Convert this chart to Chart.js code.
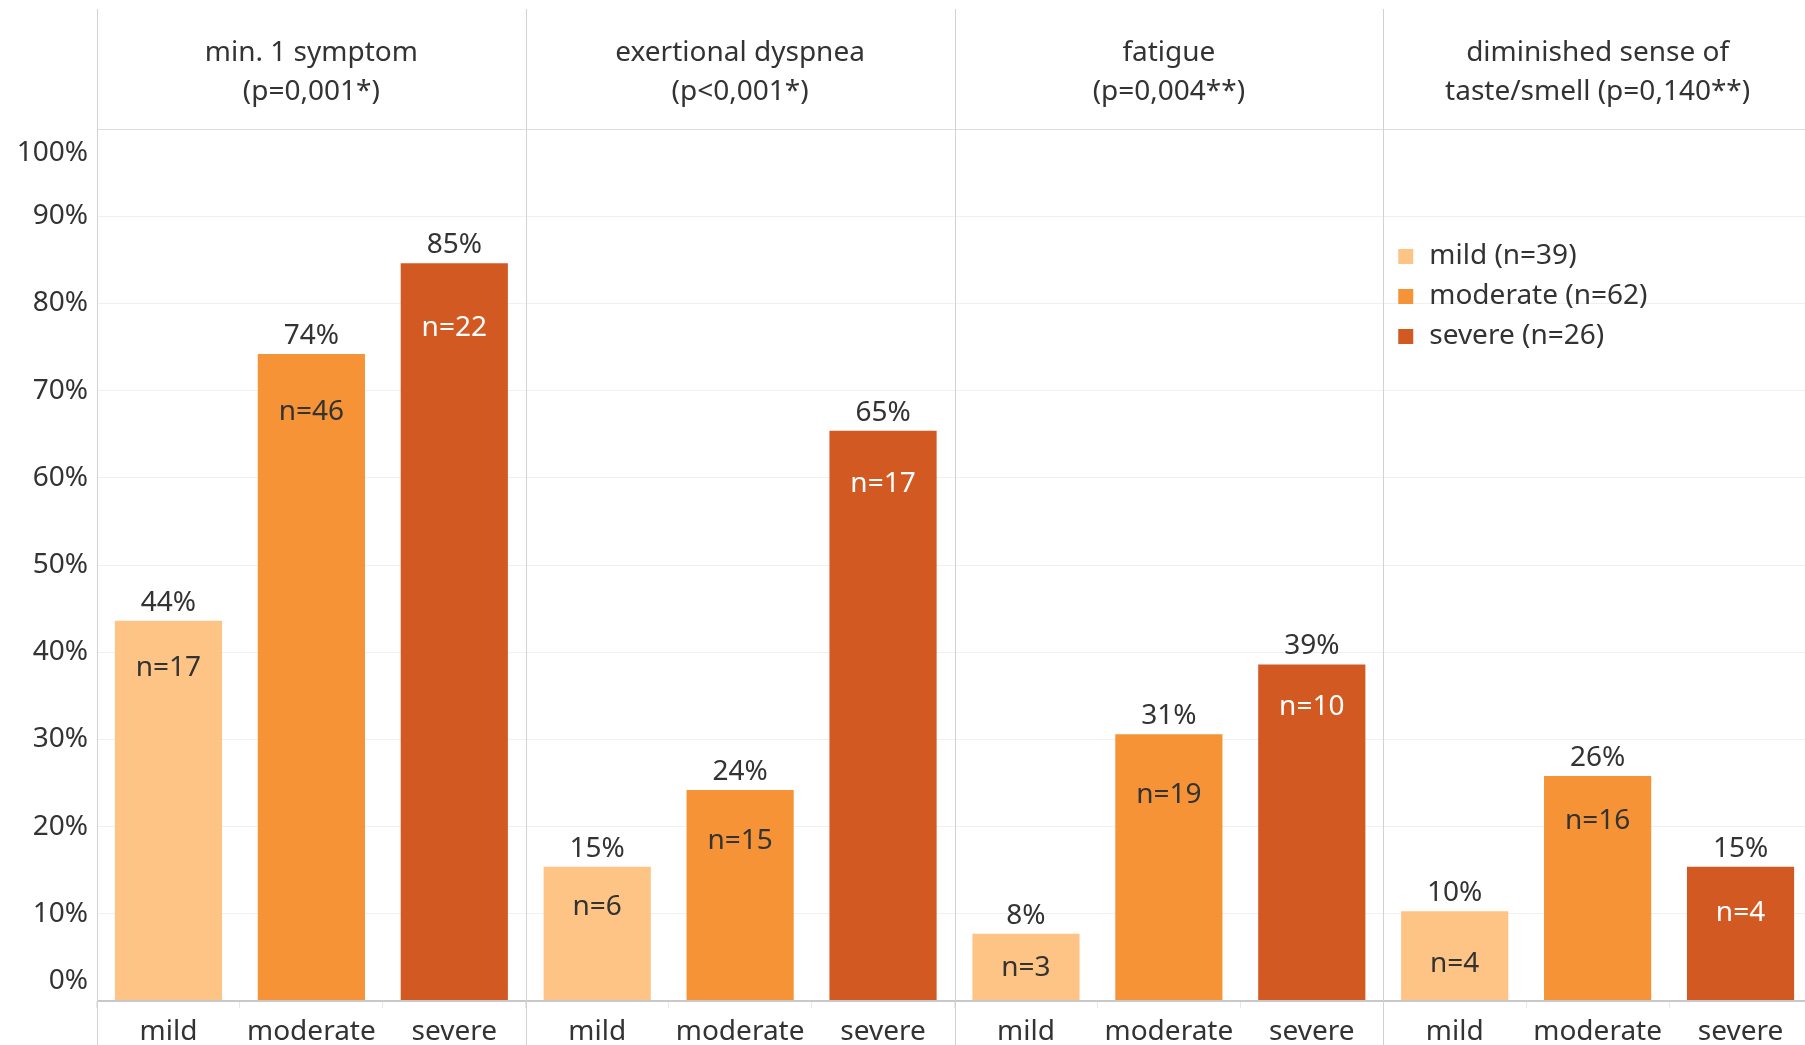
<!DOCTYPE html>
<html>
<head>
<meta charset="utf-8">
<title>Symptoms by severity</title>
<script src="https://cdn.jsdelivr.net/npm/chart.js@4.4.1/dist/chart.umd.min.js"></script>
<style>
  html, body { margin: 0; padding: 0; background: #fff; overflow: hidden; }
  #wrap { width: 1805px; height: 1045px; overflow: hidden; }
  #symptomChart { display: block; }
</style>
</head>
<body>
<div id="wrap"><canvas id="symptomChart" width="1812" height="1045"></canvas></div>
<script>
// Panel titles, two lines each
const panelTitles = [
    ['min. 1 symptom', '(p=0,001*)'],
    ['exertional dyspnea', '(p<0,001*)'],
    ['fatigue', '(p=0,004**)'],
    ['diminished sense of', 'taste/smell (p=0,140**)']
];
const severityLevels = ['mild', 'moderate', 'severe'];
const groupSizes = [39, 62, 26];

// Share of patients with the symptom (%)
const mildPct = [43.6, 15.4, 7.7, 10.3];
const moderatePct = [74.2, 24.2, 30.6, 25.8];
const severePct = [84.6, 65.4, 38.6, 15.4];

// Patient counts printed inside the bars
const mildN = [17, 6, 3, 4];
const moderateN = [46, 15, 19, 16];
const severeN = [22, 17, 10, 4];

// Y axis ticks (%)
const yTickValues = [0, 10, 20, 30, 40, 50, 60, 70, 80, 90, 100];

// Styling
const FONT = '"Noto Sans", "Open Sans", sans-serif';
const FONT_SIZE = 28;
const TEXT = '#333333';
const barColors = ['#FDC486', '#F59336', '#D25922'];
const countColors = ['#333333', '#333333', '#ffffff'];
// how far below the bar top the n= label sits (px)
const countDrop = [[47, 40, 34, 53], [58, 51, 61, 45], [65, 53, 43, 46]];

const pctSeries = [mildPct, moderatePct, severePct];
const countSeries = [mildN, moderateN, severeN];

// Vertical panel dividers
const panelFrame = {
    id: 'panelFrame',
    beforeDatasetsDraw(chart) {
        const { ctx, chartArea } = chart;
        const w = chartArea.width / panelTitles.length;
        ctx.save();
        ctx.strokeStyle = '#d2d2d2';
        ctx.lineWidth = 1;
        for (let k = 0; k < panelTitles.length; k++) {
            const x = Math.round(chartArea.left + k * w) + 0.5;
            ctx.beginPath();
            ctx.moveTo(x, 9);
            ctx.lineTo(x, chart.height);
            ctx.stroke();
        }
        ctx.restore();
    }
};

// Percentage above each bar, count inside it
const barLabels = {
    id: 'barLabels',
    afterDatasetsDraw(chart) {
        const { ctx } = chart;
        ctx.save();
        ctx.font = FONT_SIZE + 'px ' + FONT;
        ctx.textAlign = 'center';
        ctx.textBaseline = 'middle';
        chart.data.datasets.forEach((ds, i) => {
            chart.getDatasetMeta(i).data.forEach((bar, j) => {
                ctx.fillStyle = TEXT;
                ctx.fillText(Math.round(ds.data[j]) + '%', bar.x, bar.y - 18);
                ctx.fillStyle = countColors[i];
                ctx.fillText('n=' + countSeries[i][j], bar.x, bar.y + countDrop[i][j]);
            });
        });
        ctx.restore();
    }
};

// Y tick labels, with the end labels pulled inside the plot
const yLabels = {
    id: 'yLabels',
    afterDraw(chart) {
        const { ctx, chartArea } = chart;
        const y = chart.scales.y;
        ctx.save();
        ctx.font = FONT_SIZE + 'px ' + FONT;
        ctx.fillStyle = TEXT;
        ctx.textAlign = 'right';
        ctx.textBaseline = 'middle';
        y.ticks.forEach(t => {
            let py = y.getPixelForValue(t.value);
            if (t.value === y.max) py = chartArea.top + 24;
            if (t.value === y.min) py = chartArea.bottom - 20;
            ctx.fillText(t.value + '%', chartArea.left - 9, py);
        });
        ctx.restore();
    }
};

// Legend inside the last panel
const panelLegend = {
    id: 'panelLegend',
    afterDraw(chart) {
        const { ctx, chartArea } = chart;
        const w = chartArea.width / panelTitles.length;
        const x0 = chartArea.left + 3 * w + 15;
        const y0 = chartArea.top + 127;
        ctx.save();
        ctx.font = FONT_SIZE + 'px ' + FONT;
        ctx.textBaseline = 'middle';
        chart.data.datasets.forEach((ds, i) => {
            const cy = y0 + i * 40;
            ctx.fillStyle = ds.backgroundColor;
            ctx.fillRect(x0, cy - 7, 15, 15);
            ctx.fillStyle = TEXT;
            ctx.fillText(ds.label, x0 + 31, cy);
        });
        ctx.restore();
    }
};

const ctx = document.getElementById('symptomChart').getContext('2d');
new Chart(ctx, {
    type: 'bar',
    data: {
        labels: panelTitles.map(t => t.join(' ')),
        datasets: severityLevels.map((lvl, i) => ({
            label: lvl + ' (n=' + groupSizes[i] + ')',
            data: pctSeries[i],
            backgroundColor: barColors[i],
            barPercentage: 0.75,
            categoryPercentage: 1.0
        }))
    },
    options: {
        responsive: false,
        animation: false,
        devicePixelRatio: 1,
        layout: { padding: { top: 9, right: 0, left: 0, bottom: 0 } },
        plugins: {
            legend: { display: false },
            tooltip: { enabled: false }
        },
        scales: {
            x: { display: false },
            xTop: {
                type: 'category',
                position: 'top',
                labels: panelTitles,
                offset: true,
                grid: { display: false, drawTicks: false },
                border: { display: false },
                ticks: {
                    font: { family: FONT, size: FONT_SIZE, lineHeight: 39 / FONT_SIZE },
                    color: TEXT,
                    padding: 17,
                    maxRotation: 0,
                    autoSkip: false
                },
                afterFit(scale) { scale.height = 120; }
            },
            xSub: {
                type: 'category',
                position: 'bottom',
                labels: panelTitles.flatMap(() => severityLevels),
                offset: true,
                grid: {
                    offset: true,
                    drawOnChartArea: false,
                    drawTicks: true,
                    tickLength: 7,
                    color: '#e8e8e8'
                },
                border: { display: false },
                ticks: {
                    font: { family: FONT, size: FONT_SIZE, lineHeight: 1.2 },
                    color: TEXT,
                    padding: 7,
                    maxRotation: 0,
                    autoSkip: false
                },
                afterFit(scale) { scale.height = 44; }
            },
            y: {
                min: 0,
                max: 100,
                afterBuildTicks(scale) {
                    scale.ticks = yTickValues.map(v => ({ value: v }));
                },
                ticks: { display: false },
                border: { display: false },
                grid: {
                    drawTicks: false,
                    color: c => c.tick.value === 0 ? '#c8c8c8' : (c.tick.value === 100 ? '#dedede' : '#f0f0f0'),
                    lineWidth: c => c.tick.value === 0 ? 2 : 1
                },
                afterFit(scale) { scale.width = 97; }
            }
        }
    },
    plugins: [panelFrame, barLabels, yLabels, panelLegend]
});
</script>
</body>
</html>
